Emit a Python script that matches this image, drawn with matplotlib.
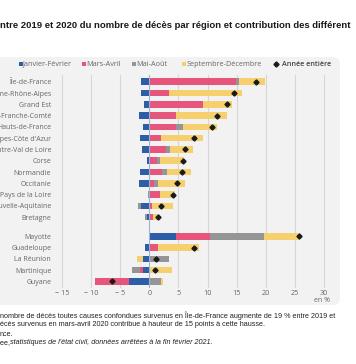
import matplotlib.pyplot as plt
from matplotlib.patches import FancyBboxPatch, Rectangle
from matplotlib.lines import Line2D
import numpy as np

# données (points de %)
regions = ["Île-de-France", "Auvergne-Rhône-Alpes", "Grand Est", "Bourgogne-Franche-Comté",
           "Hauts-de-France", "Provence-Alpes-Côte d'Azur", "Centre-Val de Loire", "Corse",
           "Normandie", "Occitanie", "Pays de la Loire", "Nouvelle-Aquitaine", "Bretagne",
           "Mayotte", "Guadeloupe", "La Réunion", "Martinique", "Guyane"]
jan_fev = [-1.4, -1.4, -0.9, -1.8, -1.1, -1.6, -1.3, -0.4, -1.6, -1.8, 0.0, -1.5, -0.4,
           4.6, -0.8, -1.1, -1.1, -3.6]
mar_avr = [14.9, 3.3, 9.3, 4.5, 4.6, 2.0, 2.8, 1.3, 2.2, 0.8, 1.9, 0.5, 0.6,
           5.9, 1.5, 0.0, -0.6, -5.7]
mai_aou = [0.5, 0.0, 0.0, 0.0, 1.1, 0.0, 0.7, 0.6, 0.9, 0.6, -0.3, -0.4, -0.3,
           9.2, 0.0, 3.4, -1.3, 2.0]
sep_dec = [4.5, 12.6, 5.0, 8.9, 5.9, 7.2, 4.0, 4.1, 4.0, 4.8, 2.5, 3.5, 1.0,
           6.2, 7.0, -1.1, 3.8, 0.4]
annee = [18.4, 14.5, 13.4, 11.7, 10.7, 7.7, 6.1, 5.8, 5.6, 4.7, 4.1, 2.0, 1.4,
         25.8, 7.7, 1.2, 1.0, -6.4]
xticks = [-15, -10, -5, 0, 5, 10, 15, 20, 25, 30]

periodes = ["Janvier-Février", "Mars-Avril", "Mai-Août", "Septembre-Décembre"]
couleurs = ["#2d5da7", "#e5557c", "#959595", "#f6d06e"]

W, H = 356, 364
fig = plt.figure(figsize=(W / 100, H / 100), dpi=100)
fig.patch.set_facecolor("white")

def fx(px):
    return px / W

def fy(py):
    return 1 - py / H

# fond gris arrondi
panel = FancyBboxPatch((fx(-10), fy(305)), fx(350), (305 - 57) / H,
                       boxstyle="round,pad=0,rounding_size=0.02",
                       transform=fig.transFigure, facecolor="#f2f2f3",
                       edgecolor="none", zorder=-5)
fig.patches.append(panel)

title = "ntre 2019 et 2020 du nombre de décès par région et contribution des différent"
fig.text(fx(0), fy(25), title, fontsize=6.8, fontweight="bold", family="Liberation Sans",
         color="#1a1a1a", va="center", ha="left")

ax = fig.add_axes([fx(56), fy(287.7), fx(330 - 56), (287.7 - 75) / H])
ax.set_facecolor("none")
ax.set_zorder(2)

# positions des lignes (écart entre métropole et DOM)
ypos = np.array(list(range(13)) + [13.7, 14.7, 15.7, 16.7, 17.7])

series = [jan_fev, mar_avr, mai_aou, sep_dec]
pos_left = np.zeros(len(regions))
neg_left = np.zeros(len(regions))
for vals, col, lab in zip(series, couleurs, periodes):
    v = np.array(vals)
    left = np.where(v >= 0, pos_left, neg_left)
    ax.barh(ypos, v, left=left, height=0.58, color=col, label=lab, zorder=3)
    pos_left += np.where(v >= 0, v, 0)
    neg_left += np.where(v < 0, v, 0)

ax.plot(annee, ypos, linestyle="none", marker="D", markersize=2.6,
        color="#1a1a1a", markeredgecolor="#1a1a1a", zorder=5)

ax.set_xlim(-16.1, 31.1)
ax.set_ylim(18.25, -0.6)
ax.set_xticks(xticks)
ax.set_xticklabels([str(t).replace("-", "\u2212 ") if t < 0 else str(t) for t in xticks],
                   fontsize=5.2, family="Open Sans", color="#666666")
ax.set_yticks(ypos)
ax.set_yticklabels(regions, fontsize=5.0, family="Open Sans", color="#666666")
ax.tick_params(axis="y", length=0, pad=3.5)
ax.tick_params(axis="x", length=0, pad=2)
for t in xticks:
    if t != 0:
        ax.axvline(t, color="#d6d6da", linewidth=0.8, zorder=1)
ax.axvline(0, color="#9bb1d6", linewidth=0.8, zorder=4)
for s in ax.spines.values():
    s.set_visible(False)

fig.text(fx(330), fy(301), "en %", fontsize=5.0, family="Open Sans", color="#666666",
         ha="right", va="center")

# légende manuelle
leg_y = 64
sq = 3.6
for xs, col, lab in zip([19, 82, 132, 182], couleurs, periodes):
    fig.patches.append(Rectangle((fx(xs), fy(leg_y + sq / 2)), fx(sq), sq / H,
                                 transform=fig.transFigure, facecolor=col,
                                 edgecolor="none"))
    fig.text(fx(xs + sq + 0.5), fy(leg_y), lab, fontsize=5.2, family="Open Sans",
             color="#666666", ha="left", va="center")
fig.lines.append(Line2D([fx(276)], [fy(leg_y)], transform=fig.transFigure, marker="D",
                        markersize=2.6, color="#1a1a1a", linestyle="none"))
fig.text(fx(282), fy(leg_y), "Année entière", fontsize=5.2, family="Open Sans",
         fontweight="semibold", color="#444444", ha="left", va="center")

# notes
note_kw = dict(fontsize=5.2, family="Liberation Sans", color="#222222", ha="left", va="center")
fig.text(fx(0), fy(316), "nombre de décès toutes causes confondues survenus en Île-de-France "
         "augmente de 19 % entre 2019 et", **note_kw)
fig.text(fx(0), fy(325), "écès survenus en mars-avril 2020 contribue à hauteur de 15 points "
         "à cette hausse.", **note_kw)
fig.text(fx(0), fy(334), "nce.", **note_kw)
fig.text(fx(0), fy(343), "ee, ", **note_kw)
fig.text(fx(10.5), fy(343), "statistiques de l'état civil, données arrêtées à la fin février 2021.",
         style="italic", **note_kw)

fig.savefig("out.png", dpi=100)
